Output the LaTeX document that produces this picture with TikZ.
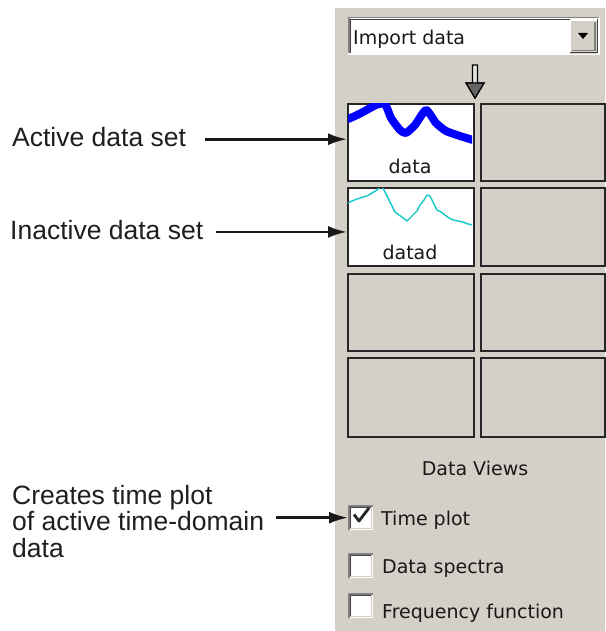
\documentclass[tikz,border=0pt]{standalone}
\usepackage{fontspec}
\setmainfont{Liberation Sans}
\newfontfamily\uifont{DejaVu Sans}
\usetikzlibrary{arrows.meta}
\definecolor{panelgray}{RGB}{212,208,200}
\definecolor{shadowgray}{RGB}{128,128,128}
\definecolor{darkedge}{RGB}{64,64,64}
\definecolor{traceblue}{RGB}{0,0,255}
\definecolor{tracecyan}{RGB}{20,200,200}
\begin{document}
\begin{tikzpicture}[x=1pt,y=-1pt,
  callout/.style={font=\fontsize{26.5}{26.5}\selectfont, inner sep=0pt, anchor=base west, text=black!88},
  uitext/.style={font=\uifont\fontsize{19}{19}\selectfont, inner sep=0pt, anchor=base west, text=black!90},
  viewcell/.style={draw=black!85, line width=2pt, fill=panelgray, inner sep=0pt, anchor=north west},
  plotcell/.style={viewcell, fill=white},
  pointer/.style={line width=2.6pt, black!90, -{Latex[length=19pt,width=12pt]}},
  tickbox/.style={fill=white, minimum size=25pt, inner sep=0pt, anchor=north west},
]
\useasboundingbox (0,0) rectangle (605,631);
\fill[white] (0,0) rectangle (605,631);

% dialog panel
\fill[panelgray] (335,8) rectangle (605,631);

% combo box
\node[fill=white, minimum width=252pt, minimum height=38pt, inner sep=0pt, anchor=north west] (combo) at (348,17) {};
\draw[shadowgray, line width=1.5pt] (348.75,55) -- (348.75,17.75) -- (600,17.75);
\draw[darkedge, line width=1.5pt] (350.5,53) -- (350.5,19.5) -- (598,19.5);
\draw[white, line width=1.5pt] (348,54.25) -- (599.25,54.25) -- (599.25,17);
\node[fill=panelgray, minimum width=27pt, minimum height=34pt, inner sep=0pt, anchor=north west] (dropbtn) at (570,19.5) {};
\draw[white, line width=1.2pt] (570.6,53) -- (570.6,20.1) -- (597,20.1);
\draw[darkedge, line width=1.5pt] (570,52.75) -- (597.25,52.75) -- (597.25,19.5);
\draw[shadowgray, line width=1.2pt] (572,50.6) -- (595,50.6) -- (595,22);
\fill[black] (578,33) -- (588,33) -- (583,39) -- cycle;
\node[uitext] (importlbl) at (353,45) {Import data};

% import arrow
\filldraw[draw=black, line width=1.2pt, fill=panelgray!60!white] (472.5,65) -- (477.5,65) -- (477.5,83) -- (484,83) -- (475,98) -- (466,83) -- (472.5,83) -- cycle;
\filldraw[draw=black, line width=1.2pt, fill=black!60] (466,83) -- (484,83) -- (475,98) -- cycle;

% data view grid
\node[plotcell, minimum width=126pt, minimum height=77pt] (c11) at (347,103) {};
\node[viewcell, minimum width=124pt, minimum height=77pt] (c12) at (480,103) {};
\node[plotcell, minimum width=126pt, minimum height=78pt] (c21) at (347,187) {};
\node[viewcell, minimum width=124pt, minimum height=78pt] (c22) at (480,187) {};
\node[viewcell, minimum width=126pt, minimum height=77pt] (c31) at (347,273) {};
\node[viewcell, minimum width=124pt, minimum height=77pt] (c32) at (480,273) {};
\node[viewcell, minimum width=126pt, minimum height=79pt] (c41) at (347,357) {};
\node[viewcell, minimum width=124pt, minimum height=79pt] (c42) at (480,357) {};

% active data trace
\begin{scope}
  \clip (348,104) rectangle (472,179);
  \draw[traceblue, line width=8pt, line join=round, line cap=round, shift={(347,103)}]
    plot[smooth, tension=0.35] coordinates {(1,16) (8,13) (16,9) (29,2) (38,1) (44,15) (53,27) (59,30) (68,22) (79,7) (89,20) (99,28) (113,33) (126,37)};
\end{scope}
% inactive data trace
\begin{scope}
  \clip (348,188) rectangle (472,264);
  \draw[tracecyan, line width=1.4pt, line join=round, shift={(347,187)}]
    plot coordinates {(1,16) (5,14) (10,12) (16,10) (20,9) (25,6) (30,3) (33,0) (36,1) (41,11) (45,19) (48,25) (52,28) (55,30) (60,34) (63,31) (66,28) (70,24) (73,18) (77,13) (80,8) (83,9) (86,15) (90,23) (94,25) (98,28) (102,31) (106,33) (111,34) (116,35) (121,37) (126,38)};
\end{scope}
\node[uitext, anchor=base] (datalbl) at (410,173) {data};
\node[uitext, anchor=base] (datadlbl) at (410,259) {datad};

\node[uitext, anchor=base] (viewslbl) at (475,475) {Data Views};

% check boxes
\foreach \yy/\nm in {505/cb1, 553/cb2, 593/cb3} {
  \node[tickbox] (\nm) at (348,\yy) {};
  \draw[shadowgray, line width=1.5pt] (348.75,\yy+25) -- (348.75,\yy+0.75) -- (373,\yy+0.75);
  \draw[darkedge, line width=1.5pt] (350.5,\yy+23) -- (350.5,\yy+2.5) -- (371,\yy+2.5);
  \draw[panelgray, line width=1.5pt] (350,\yy+23.25) -- (371.25,\yy+23.25) -- (371.25,\yy+2);
}
\draw[black!85, line width=2.8pt, line join=round] (354,514.5) -- (359,521) -- (369,508);
\node[uitext] (timeopt) at (381,525) {Time plot};
\node[uitext] (specopt) at (382,573) {Data spectra};
\node[uitext] (freqopt) at (382,618) {Frequency function};

% callouts
\node[callout] (activelbl) at (12,147) {Active data set};
\node[callout] (inactivelbl) at (10,239.5) {Inactive data set};
\node[callout, align=left] (timelbl) at (12,557) {Creates time plot\\of active time-domain\\data};

\draw[pointer, shorten <=19pt] ([yshift=-1.7pt]activelbl.east) -- ([yshift=-1.7pt]activelbl.east -| c11.west);
\draw[pointer, shorten <=13pt] ([yshift=-1.9pt]inactivelbl.east) -- ([yshift=-1.9pt]inactivelbl.east -| c21.west);
\draw[pointer, shorten <=12pt] (timelbl.east |- cb1.west) -- (cb1.west);
\end{tikzpicture}
\end{document}
